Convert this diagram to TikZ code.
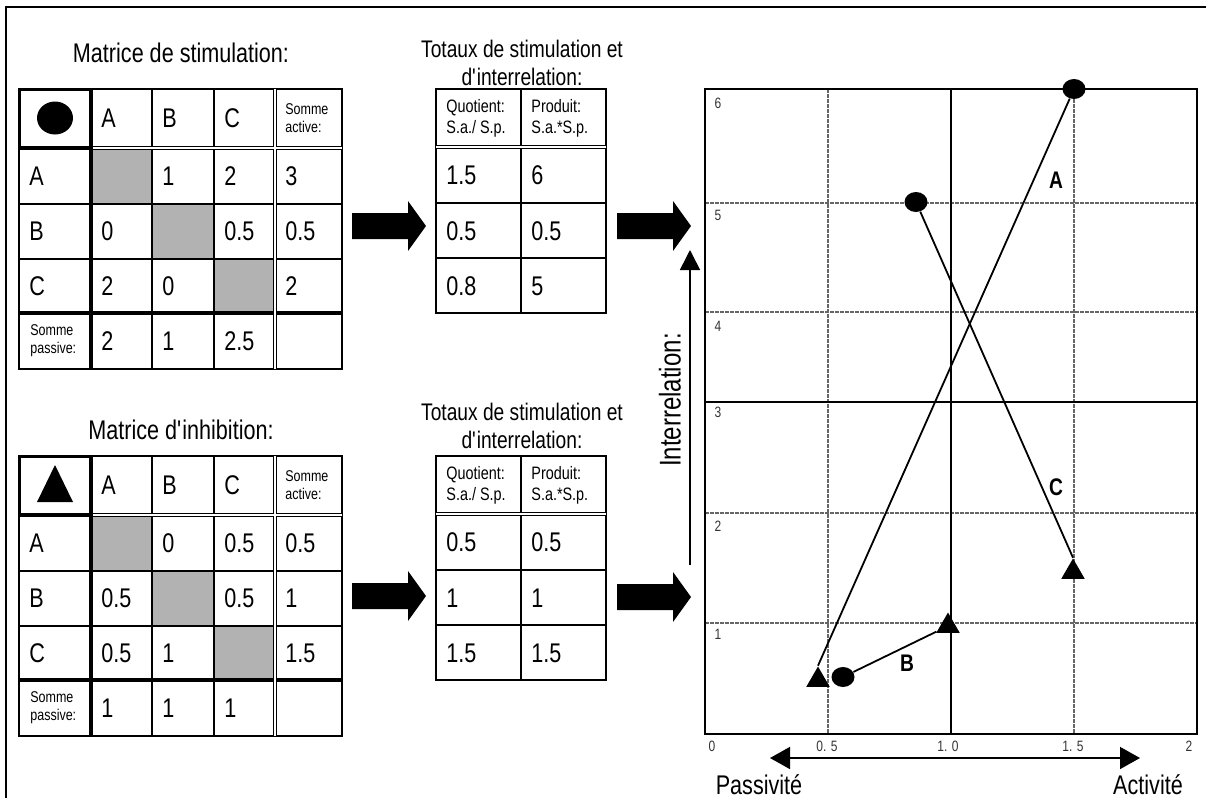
\documentclass[tikz,border=0pt]{standalone}
\usepackage{fontspec}
\setmainfont{Liberation Sans}[FakeStretch=0.8]
\usetikzlibrary{shapes.geometric,arrows.meta}

\definecolor{grisclair}{gray}{0.7}
\definecolor{grisgrille}{gray}{0.4}

\tikzset{
  cell/.style={anchor=west,inner sep=0pt,font=\fontsize{13.5}{15}\selectfont},
  petit/.style={anchor=west,inner sep=0pt,align=left,font=\fontsize{7.8}{9}\selectfont},
  entete/.style={anchor=west,inner sep=0pt,align=left,font=\fontsize{9}{10.5}\selectfont},
  titre/.style={align=center,inner sep=0pt,font=\fontsize{13.5}{15}\selectfont},
  soustitre/.style={align=center,inner sep=0pt,font=\fontsize{12}{14}\selectfont},
  trait/.style={line width=1pt},
  gras/.style={line width=1.6pt},
  dbl/.style={double,line width=0.6pt,double distance=1pt},
  grille/.style={grisgrille,line width=1pt,dash pattern=on 2pt off 0.5pt},
  rond/.style={ellipse,fill=black,inner sep=0pt,minimum width=11.5pt,minimum height=10pt},
  tri/.style={regular polygon,regular polygon sides=3,fill=black,inner sep=0pt,minimum size=13.5pt},
  echelle/.style={inner sep=0pt,text=black!80,font=\fontsize{7.5}{8}\selectfont},
  lettre/.style={inner sep=0pt,font=\bfseries\fontsize{12}{13}\selectfont},
}

% lignes d'une matrice 3x3 avec sommes
\newcommand\grilleMatrice{
  \fill[grisclair] (91,148) rectangle (152,204) (152,204) rectangle (214,259) (214,259) rectangle (275,313);
  \draw[trait] (19,89) rectangle (342,369);
  \draw[trait] (152,89) -- (152,369) (214,89) -- (214,369) (19,204) -- (342,204) (19,259) -- (342,259);
  \draw[gras] (91,89) -- (91,369) (19,313) -- (342,313);
  \draw[dbl] (275,89) -- (275,369) (19,148) -- (342,148);
  \draw[line width=1.5pt] (19,89) rectangle (91,148);
}
% lignes du tableau des totaux
\newcommand\grilleTotaux{
  \draw[trait] (436,89) rectangle (606,313);
  \draw[trait] (521,89) -- (521,313) (436,203) -- (606,203) (436,258) -- (606,258);
  \draw[dbl] (436,147) -- (606,147);
}
% grosse fleche pleine, #1 = debut du corps
\newcommand\grosseFleche[1]{
  \fill (#1) ++(0,-13) -- ++(56,0) -- ++(0,-12) -- ++(18,25) -- ++(-18,25) -- ++(0,-12) -- ++(-56,0) -- cycle;
}

\begin{document}
\begin{tikzpicture}[x=0.5pt,y=-0.5pt]
  \useasboundingbox (0,0) rectangle (1206,798);
  \draw[line width=1pt] (6,798) -- (6,7) -- (1206,7);

  % matrice de stimulation
  \node[titre] (titreS) at (181,53) {Matrice de stimulation:};
  \grilleMatrice
  \node[rond,minimum width=18pt,minimum height=16.5pt] (symS) at (55,118) {};
  \foreach \t/\x [count=\k] in {A/101,B/162,C/224}
    \node[cell] (st-0-\k) at (\x,118) {\t};
  \node[petit] (st-0-4) at (285,118) {Somme\\active:};
  \foreach \r/\y/\a/\b/\c/\s in {1/176/A//1/2/3,2/231/B/0//0.5/0.5,3/286/C/2/0//2}{
    \node[cell] (st-\r-0) at (29,\y) {\a};
    \node[cell] (st-\r-1) at (101,\y) {\b};
    \node[cell] (st-\r-2) at (162,\y) {\c};
    \node[cell] (st-\r-3) at (224,\y) {\s};
  }
  \foreach \r/\y/\a/\b/\c/\s in {1/176//1/2/3,2/231/0//0.5/0.5,3/286/2/0//2}
    \node[cell] (st-\r-4) at (285,\y) {\s};
  \node[petit] (st-4-0) at (30,341) {Somme\\passive:};
  \foreach \t/\x [count=\k] in {2/101,1/162,2.5/224}
    \node[cell] (st-4-\k) at (\x,341) {\t};

  % totaux de la stimulation
  \node[soustitre] (titreTS) at (522,63) {Totaux de stimulation et\\d\textquotesingle interrelation:};
  \grilleTotaux
  \node[entete] (ts-0-1) at (446,118) {Quotient:\\S.a./ S.p.};
  \node[entete] (ts-0-2) at (531,118) {Produit:\\S.a.*S.p.};
  \foreach \q/\p/\y [count=\r] in {1.5/6/175,0.5/0.5/231,0.8/5/286}{
    \node[cell] (ts-\r-1) at (446,\y) {\q};
    \node[cell] (ts-\r-2) at (531,\y) {\p};
  }
  \grosseFleche{352,226}
  \grosseFleche{617,226}

  % matrice d'inhibition
  \node[titre] (titreI) at (181,430) {Matrice d\textquotesingle inhibition:};
  \begin{scope}[shift={(0,367)}]
    \grilleMatrice
    \fill (37,135) -- (73,135) -- (55,98) -- cycle;
    \foreach \t/\x [count=\k] in {A/101,B/162,C/224}
      \node[cell] (in-0-\k) at (\x,118) {\t};
    \node[petit] (in-0-4) at (285,118) {Somme\\active:};
    \foreach \r/\y/\a/\b/\c/\s/\e in {1/176/A//0/0.5/0.5,2/231/B/0.5//0.5/1,3/286/C/0.5/1//1.5}{
      \node[cell] (in-\r-0) at (29,\y) {\a};
      \node[cell] (in-\r-1) at (101,\y) {\b};
      \node[cell] (in-\r-2) at (162,\y) {\c};
      \node[cell] (in-\r-3) at (224,\y) {\s};
      \node[cell] (in-\r-4) at (285,\y) {\e};
    }
    \node[petit] (in-4-0) at (30,341) {Somme\\passive:};
    \foreach \t/\x [count=\k] in {1/101,1/162,1/224}
      \node[cell] (in-4-\k) at (\x,341) {\t};

    % totaux de l'inhibition
    \grilleTotaux
    \node[entete] (ti-0-1) at (446,118) {Quotient:\\S.a./ S.p.};
    \node[entete] (ti-0-2) at (531,118) {Produit:\\S.a.*S.p.};
    \foreach \q/\p/\y [count=\r] in {0.5/0.5/175,1/1/231,1.5/1.5/286}{
      \node[cell] (ti-\r-1) at (446,\y) {\q};
      \node[cell] (ti-\r-2) at (531,\y) {\p};
    }
    \grosseFleche{352,229}
    \grosseFleche{617,230}
  \end{scope}
  \node[soustitre] (titreTI) at (522,426) {Totaux de stimulation et\\d\textquotesingle interrelation:};

  % axe vertical
  \coordinate (bas) at (690,565);
  \coordinate (haut) at (690,250);
  \draw[line width=0.8pt,-{Triangle[length=10pt,width=10pt]}] (bas) -- (haut);
  \node[titre,rotate=90,font=\fontsize{15}{16}\selectfont] (inter) at (670,400) {Interrelation:};

  % diagramme
  \draw[grille] (828,89) -- (828,734) (1074,89) -- (1074,734);
  \draw[grille] (705,203) -- (1197,203) (705,312) -- (1197,312) (705,513) -- (1197,513) (705,623) -- (1197,623);
  \draw[trait] (951,89) -- (951,734) (705,402) -- (1197,402);
  \draw[trait] (705,89) rectangle (1197,734);
  \foreach \v/\y in {6/103,5/215,4/326,3/412,2/526,1/634}
    \node[echelle] (y\v) at (718,\y) {\v};
  \foreach \t/\x [count=\k] in {0/712,0. 5/827,1. 0/948,1. 5/1073,2/1189}
    \node[echelle] (x\k) at (\x,746) {\t};

  % axe horizontal
  \coordinate (gauche) at (770,758);
  \coordinate (droite) at (1140,758);
  \draw[line width=0.8pt,{Triangle[length=10pt,width=11pt]}-{Triangle[length=10pt,width=11pt]}] (gauche) -- (droite);
  \node[titre] (passiv) at (759,785) {Passivité};
  \node[titre] (activ) at (1148,785) {Activité};

  % points : stimulation (ronds) et inhibition (triangles)
  \node[rond] (sA) at (1074,89) {};
  \node[rond] (sC) at (916,202) {};
  \node[rond] (sB) at (843,677) {};
  \node[tri] (iA) at (818,680) {};
  \node[tri] (iB) at (948,626) {};
  \node[tri] (iC) at (1073,572) {};
  \draw[line width=0.9pt] (sA) -- (iA.north);
  \draw[line width=0.9pt] (sC) -- (iC.north);
  \draw[line width=0.9pt] (sB) -- (iB);
  \node[lettre] (lA) at (1056,180) {A};
  \node[lettre] (lC) at (1056,487) {C};
  \node[lettre] (lB) at (907,663) {B};
\end{tikzpicture}
\end{document}
